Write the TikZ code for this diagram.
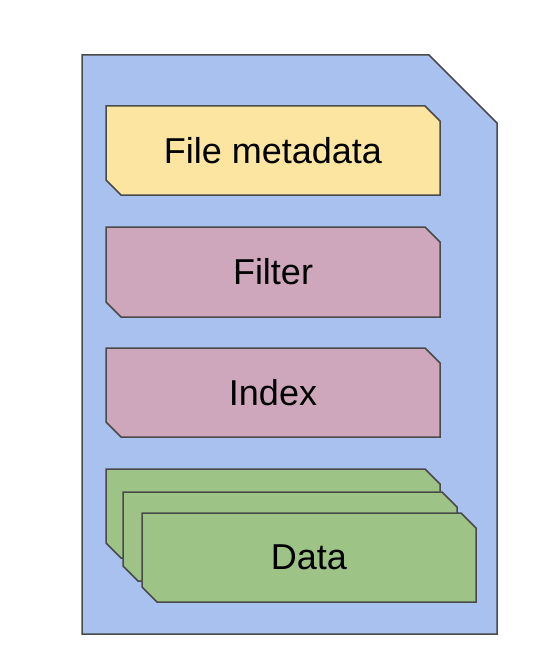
\documentclass[tikz,border=0pt]{standalone}
\usepackage{fontspec}
\setmainfont{Liberation Sans}
\usepackage{xcolor}
\usetikzlibrary{positioning}

\definecolor{fileblue}{HTML}{A9C1EE}
\definecolor{metayellow}{HTML}{FBE5A1}
\definecolor{blockpink}{HTML}{CFA7BD}
\definecolor{datagreen}{HTML}{9DC386}
\definecolor{edgegray}{HTML}{4A4A4A}

\tikzset{
  boxline/.style={draw=edgegray,line width=1.5pt,line join=miter},
  boxtext/.style={font=\fontsize{36pt}{40pt}\selectfont,inner sep=0pt}
}

% snipped box: colour, left, top, right, bottom
\newcommand{\snipbox}[5]{%
  \draw[boxline,fill=#1] (#2,#3)--({#4-15},#3)--(#4,{#3+15})--(#4,#5)--({#2+15},#5)--(#2,{#5-15})--cycle;}

\begin{document}
\begin{tikzpicture}[x=1pt,y=-1pt]
  \useasboundingbox (0,0) rectangle (536,666);
  % file outline
  \draw[boxline,fill=fileblue] (82,55)--(429,55)--(497,123)--(497,634)--(82,634)--cycle;
  % metadata, filter, index
  \snipbox{metayellow}{106}{106}{440}{195}
  \node[boxtext] (meta) at (273,150.5) {File metadata};
  \snipbox{blockpink}{106}{227}{440}{317}
  \node[boxtext] (filter) at (273,272) {Filter};
  \snipbox{blockpink}{106}{348}{440}{437}
  \node[boxtext] (index) at (273,392.5) {Index};
  % data blocks
  \snipbox{datagreen}{106}{469}{440}{558}
  \snipbox{datagreen}{123}{492}{457}{581}
  \snipbox{datagreen}{142}{513}{476}{602}
  \node[boxtext] (data) at (309,557.5) {Data};
\end{tikzpicture}
\end{document}
